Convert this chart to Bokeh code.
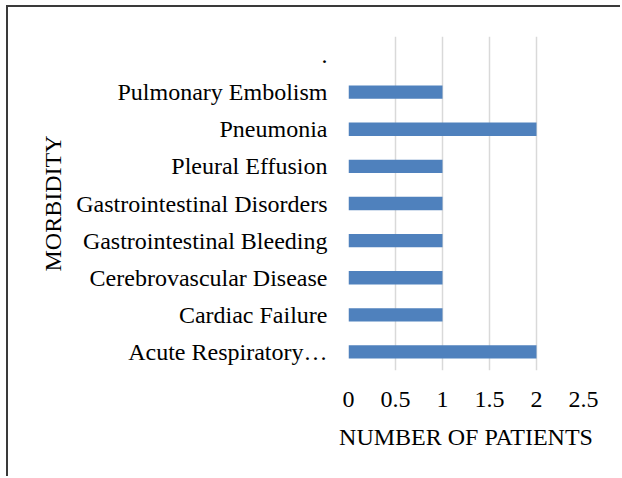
from bokeh.plotting import figure
from bokeh.models import FactorRange, Range1d, FixedTicker, ColumnDataSource, Label
from bokeh.embed import file_html
from bokeh.resources import INLINE

categories = ["Acute Respiratory\u2026", "Cardiac Failure", "Cerebrovascular Disease",
              "Gastrointestinal Bleeding", "Gastrointestinal Disorders", "Pleural Effusion",
              "Pneumonia", "Pulmonary Embolism", "."]
patients = [2, 1, 1, 1, 1, 1, 2, 1, 0]
x_ticks = [0, 0.5, 1, 1.5, 2, 2.5]
x_tick_labels = ["0", "0.5", "1", "1.5", "2", "2.5"]

FONT = "Liberation Serif"
FS = "24px"

src = ColumnDataSource(dict(cat=categories, val=patients))

p = figure(width=614, height=471, output_backend="svg", toolbar_location=None,
           y_range=FactorRange(factors=categories), x_range=Range1d(0, 2.5),
           min_border_left=340, min_border_right=39, min_border_top=29, min_border_bottom=108)
p.styles = {"margin-left": "6px", "margin-top": "5px",
            "border-left": "2px solid #3a3a3a", "border-top": "2px solid #3a3a3a"}
p.outline_line_color = None
p.background_fill_color = "white"
p.border_fill_color = "white"

p.hbar(y="cat", right="val", left=0, height=0.36, source=src,
       fill_color="#4f81bd", line_color=None)

p.xaxis.ticker = FixedTicker(ticks=x_ticks)
p.xaxis.major_label_overrides = dict(zip(x_ticks, x_tick_labels))
p.xgrid.ticker = FixedTicker(ticks=x_ticks)
p.xgrid.grid_line_color = "#d9d9d9"
p.xgrid.grid_line_width = 1.5
p.ygrid.grid_line_color = None

for ax in (p.xaxis[0], p.yaxis[0]):
    ax.axis_line_color = None
    ax.major_tick_line_color = None
    ax.minor_tick_line_color = None
    ax.major_label_text_font = FONT
    ax.major_label_text_font_size = FS
    ax.major_label_text_color = "black"
    ax.axis_label_text_font = FONT
    ax.axis_label_text_font_size = FS
    ax.axis_label_text_font_style = "normal"
    ax.axis_label_text_color = "black"

p.xaxis.axis_label = "NUMBER OF PATIENTS"
p.yaxis.axis_label = "MORBIDITY"
p.xaxis.major_label_standoff = 15
p.xaxis.axis_label_standoff = 14
p.yaxis.major_label_standoff = 15
p.yaxis.axis_label_standoff = 7

# the truncated first label overflows towards the bars, as in the original
p.yaxis.major_label_overrides = {categories[0]: ""}
p.add_layout(Label(x=0, y=categories.index(categories[0]) + 0.5, text=categories[0],
                   x_offset=-5, text_align="right", text_baseline="middle",
                   text_font=FONT, text_font_size=FS, text_color="black"))

open("out.html", "w").write(file_html(p, INLINE))
